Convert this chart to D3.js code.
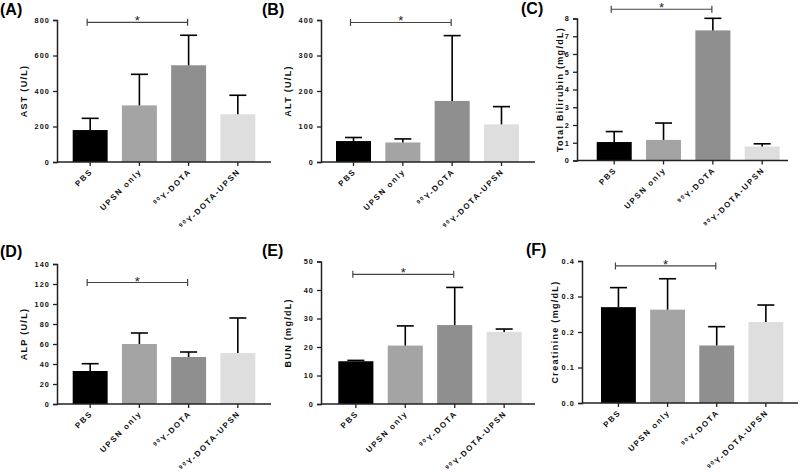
<!DOCTYPE html>
<html><head><meta charset="utf-8">
<script src="https://cdn.jsdelivr.net/npm/d3@7"></script>
<style>
html,body{margin:0;padding:0;background:#fff;}
svg text{font-family:"Liberation Sans",Arial,sans-serif;font-weight:bold;}
</style></head>
<body><svg id="chart" width="800" height="473"></svg>
<script>
// ---------- data ----------
const categories = ["PBS", "UPSN only", "90Y-DOTA", "90Y-DOTA-UPSN"];
const barColors = ["#000000", "#a4a4a4", "#8f8f8f", "#dedede"];

const astMean  = [180, 319, 545, 269];
const astSD    = [66, 175, 169, 107];
const altMean  = [59, 55, 172, 106];
const altSD    = [10, 10, 184, 50];
const tbilMean = [1.04, 1.16, 7.33, 0.79];
const tbilSD   = [0.59, 0.95, 0.68, 0.15];
const alpMean  = [33, 60, 47, 51];
const alpSD    = [7.3, 11, 5, 35];
const bunMean  = [15.0, 20.5, 27.7, 25.3];
const bunSD    = [0.3, 6.9, 13.2, 1.0];
const creaMean = [0.270, 0.263, 0.162, 0.228];
const creaSD   = [0.055, 0.087, 0.053, 0.048];

const astTicks  = [0, 200, 400, 600, 800];
const altTicks  = [0, 100, 200, 300, 400];
const tbilTicks = [0, 1, 2, 3, 4, 5, 6, 7, 8];
const alpTicks  = [0, 20, 40, 60, 80, 100, 120, 140];
const bunTicks  = [0, 10, 20, 30, 40, 50];
const creaTicks = [0, 0.1, 0.2, 0.3, 0.4];

const panelLabels = ["(A)", "(B)", "(C)", "(D)", "(E)", "(F)"];
const yTitles = ["AST (U/L)", "ALT (U/L)", "Total Bilirubin (mg/dL)", "ALP (U/L)", "BUN (mg/dL)", "Creatinine (mg/dL)"];
const sigPair = [0, 2];
const sigLevels = [787, 393, 8.52, 121.5, 45.5, 0.386];

const panels = [
  {mean: astMean,  sd: astSD,  ticks: astTicks,  fmt: d3.format("d")},
  {mean: altMean,  sd: altSD,  ticks: altTicks,  fmt: d3.format("d")},
  {mean: tbilMean, sd: tbilSD, ticks: tbilTicks, fmt: d3.format("d")},
  {mean: alpMean,  sd: alpSD,  ticks: alpTicks,  fmt: d3.format("d")},
  {mean: bunMean,  sd: bunSD,  ticks: bunTicks,  fmt: d3.format("d")},
  {mean: creaMean, sd: creaSD, ticks: creaTicks, fmt: d3.format(".1f")}
];

// ---------- layout ----------
const layout = [
  {ax: 57,  xEnd: 271, yTop: 20,   y0: 162,   b0: 72.7,  b1: 255.3, yl: 27,  lx: 0,   ly: 15},
  {ax: 321, xEnd: 535, yTop: 20,   y0: 162,   b0: 336,   b1: 519,   yl: 291, lx: 262, ly: 15},
  {ax: 577, xEnd: 788, yTop: 18.5, y0: 160.5, b0: 596.7, b1: 779.7, yl: 563, lx: 521, ly: 14},
  {ax: 57,  xEnd: 271, yTop: 264,  y0: 404,   b0: 72.7,  b1: 255.3, yl: 27,  lx: 0,   ly: 257},
  {ax: 321, xEnd: 535, yTop: 261.5,y0: 404,   b0: 338.3, b1: 521.7, yl: 291, lx: 262, ly: 256},
  {ax: 582, xEnd: 798, yTop: 261,  y0: 403,   b0: 601,   b1: 783.3, yl: 558, lx: 526, ly: 255}
];

const svg = d3.select("#chart");

panels.forEach((p, i) => {
  const L = layout[i];
  const g = svg.append("g");
  const tmax = p.ticks[p.ticks.length - 1];
  const y = d3.scaleLinear().domain([0, tmax]).range([L.y0, L.yTop]);
  const x = d3.scaleBand().domain(categories).range([L.b0, L.b1]).paddingInner(0.29).paddingOuter(0);

  // bars
  g.selectAll("rect.bar").data(categories).join("rect")
    .attr("class", "bar")
    .attr("x", d => x(d))
    .attr("width", x.bandwidth())
    .attr("y", (d, j) => y(p.mean[j]))
    .attr("height", (d, j) => L.y0 - y(p.mean[j]))
    .attr("fill", (d, j) => barColors[j]);

  // error bars (upper only)
  const eb = g.selectAll("g.err").data(categories).join("g").attr("class", "err");
  eb.append("line")
    .attr("x1", d => x(d) + x.bandwidth() / 2).attr("x2", d => x(d) + x.bandwidth() / 2)
    .attr("y1", (d, j) => y(p.mean[j])).attr("y2", (d, j) => y(p.mean[j] + p.sd[j]))
    .attr("stroke", "#000").attr("stroke-width", 1.6);
  eb.append("line")
    .attr("x1", d => x(d) + x.bandwidth() / 2 - 8.5).attr("x2", d => x(d) + x.bandwidth() / 2 + 8.5)
    .attr("y1", (d, j) => y(p.mean[j] + p.sd[j])).attr("y2", (d, j) => y(p.mean[j] + p.sd[j]))
    .attr("stroke", "#000").attr("stroke-width", 1.6);

  // y axis
  const yAxis = d3.axisLeft(y).tickValues(p.ticks).tickFormat(p.fmt).tickSizeOuter(0).tickSize(4).tickPadding(3);
  const ya = g.append("g").attr("transform", `translate(${L.ax},0)`).call(yAxis);
  ya.select(".domain").attr("stroke", "#222").attr("stroke-width", 1.5);
  ya.selectAll(".tick line").attr("stroke", "#222").attr("stroke-width", 1.3);
  ya.selectAll(".tick text").attr("font-size", 7.3).attr("letter-spacing", "1.1px")
    .attr("fill", "#111").style("font-family", "'Liberation Sans', Arial, sans-serif").style("font-weight", "bold");

  // x axis
  const xa = g.append("g").attr("transform", `translate(0,${L.y0})`);
  xa.append("line").attr("x1", L.ax).attr("x2", L.xEnd).attr("y1", 0).attr("y2", 0)
    .attr("stroke", "#222").attr("stroke-width", 1.5);
  const xt = xa.selectAll("g.xt").data(categories).join("g").attr("class", "xt")
    .attr("transform", d => `translate(${x(d) + x.bandwidth() / 2},0)`);
  xt.append("line").attr("y1", 0).attr("y2", 4).attr("stroke", "#222").attr("stroke-width", 1.3);
  const txt = xt.append("text")
    .attr("transform", "translate(3,10) rotate(-45)")
    .attr("text-anchor", "end")
    .attr("font-size", 8)
    .attr("letter-spacing", "1.6px")
    .attr("fill", "#111");
  txt.each(function(d) {
    const t = d3.select(this);
    if (d.startsWith("90")) {
      t.append("tspan").attr("font-size", 5.5).attr("dy", -3).text("90");
      t.append("tspan").attr("dy", 3).text(d.slice(2));
    } else {
      t.text(d);
    }
  });

  // y title
  g.append("text")
    .attr("transform", `translate(${L.yl},${(L.y0 + L.yTop) / 2}) rotate(-90)`)
    .attr("text-anchor", "middle")
    .attr("font-size", 9)
    .attr("letter-spacing", "1.3px")
    .attr("fill", "#111")
    .text(yTitles[i]);

  // panel label
  g.append("text").attr("x", L.lx).attr("y", L.ly)
    .attr("font-size", 16).attr("fill", "#000").text(panelLabels[i]);

  // significance bracket
  const sx1 = x(categories[sigPair[0]]) + x.bandwidth() / 2 - 3;
  const sx2 = x(categories[sigPair[1]]) + x.bandwidth() / 2 - 1;
  const sy = y(sigLevels[i]);
  const br = g.append("g").attr("stroke", "#444").attr("stroke-width", 1.2).attr("fill", "none");
  br.append("line").attr("x1", sx1).attr("x2", sx2).attr("y1", sy).attr("y2", sy);
  br.append("line").attr("x1", sx1).attr("x2", sx1).attr("y1", sy - 3.5).attr("y2", sy + 3.5);
  br.append("line").attr("x1", sx2).attr("x2", sx2).attr("y1", sy - 3.5).attr("y2", sy + 3.5);
  g.append("text").attr("x", (sx1 + sx2) / 2).attr("y", sy + 3)
    .attr("text-anchor", "middle").attr("font-size", 13).attr("fill", "#222").style("font-weight", "normal")
    .text("*");
});
</script></body></html>
